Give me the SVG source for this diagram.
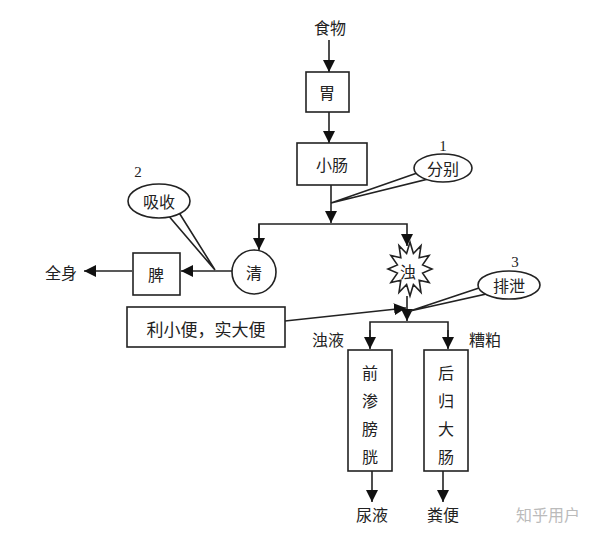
<svg xmlns="http://www.w3.org/2000/svg" width="600" height="539" viewBox="0 0 600 539">
<style>
.t{font-family:"Noto Sans CJK SC","Noto Sans CJK JP",sans-serif;font-size:16px;fill:#222;text-anchor:middle;dominant-baseline:central}
.n{font-family:"Liberation Serif",serif;font-size:15px;fill:#222;text-anchor:middle;dominant-baseline:central}
.b{fill:#fff;stroke:#222;stroke-width:1.6}
.l{fill:none;stroke:#222;stroke-width:1.6}
</style>
<defs>
<marker id="a" markerUnits="userSpaceOnUse" markerWidth="13" markerHeight="12" refX="12" refY="6" orient="auto">
<path d="M0,0 L12,6 L0,12 Z" fill="#111"/>
</marker>
</defs>
<rect width="600" height="539" fill="#fff"/>
<g id="connectors">
<line class="l" x1="329" y1="40" x2="329" y2="72" marker-end="url(#a)"/>
<line class="l" x1="329" y1="112" x2="329" y2="143" marker-end="url(#a)"/>
<line class="l" x1="331" y1="185" x2="331" y2="223" marker-end="url(#a)"/>
<polyline class="l" points="259,249 259,224 407,224 407,246" marker-end="url(#a)"/>
<line class="l" x1="259" y1="224" x2="259" y2="250" marker-end="url(#a)"/>
<line class="l" x1="232" y1="271" x2="181" y2="271" marker-end="url(#a)"/>
<line class="l" x1="132" y1="271" x2="84" y2="271" marker-end="url(#a)"/>
<line class="l" x1="407" y1="296" x2="407" y2="321" marker-end="url(#a)"/>
<line class="l" x1="285" y1="321" x2="406" y2="308" marker-end="url(#a)"/>
<polyline class="l" points="370,348 370,322 448,322 448,348"/>
<line class="l" x1="370" y1="330" x2="370" y2="349" marker-end="url(#a)"/>
<line class="l" x1="448" y1="330" x2="448" y2="349" marker-end="url(#a)"/>
<line class="l" x1="372" y1="471" x2="372" y2="502" marker-end="url(#a)"/>
<line class="l" x1="443" y1="471" x2="443" y2="502" marker-end="url(#a)"/>
</g>
<g id="food"><text class="t" x="330" y="27">食物</text></g>
<g id="stomach"><rect class="b" x="306" y="72" width="43" height="40"/><text class="t" x="327" y="92">胃</text></g>
<g id="small-intestine"><rect class="b" x="297" y="143" width="70" height="42"/><text class="t" x="332" y="164">小肠</text></g>
<g id="separate"><text class="n" x="443" y="146">1</text><polygon class="b" points="420,172 331,203 428,179"/><ellipse class="b" cx="443" cy="168" rx="29" ry="14"/><text class="t" x="443" y="168">分别</text></g>
<g id="absorb"><text class="n" x="138" y="172">2</text><polygon class="b" points="167,214 215,270 178,211"/><ellipse class="b" cx="159" cy="201" rx="31" ry="17"/><text class="t" x="159" y="201">吸收</text></g>
<g id="clear"><circle class="b" cx="254" cy="272" r="22"/><text class="t" x="254" y="272">清</text></g>
<g id="spleen"><rect class="b" x="133" y="253" width="47" height="42"/><text class="t" x="156" y="274">脾</text></g>
<g id="whole-body"><text class="t" x="61" y="272">全身</text></g>
<g id="turbid"><polygon class="b" points="410,242 413.4,253.5 421,245.6 419.2,257.7 429.1,255.5 422.6,264.9 432,269 422.6,273.1 429.1,282.5 419.2,280.3 421,292.4 413.4,284.5 410,296 406.6,284.5 399,292.4 400.8,280.3 390.9,282.5 397.4,273.1 388,269 397.4,264.9 390.9,255.5 400.8,257.7 399,245.6 406.6,253.5"/><text class="t" x="408" y="271">浊</text></g>
<g id="excrete"><text class="n" x="515" y="262">3</text><polygon class="b" points="479,288 410,311 486,294"/><ellipse class="b" cx="509" cy="285" rx="31" ry="14"/><text class="t" x="509" y="285">排泄</text></g>
<g id="effect"><rect class="b" x="127" y="307" width="158" height="40"/><text class="t" x="206" y="328" style="font-size:17px">利小便，实大便</text></g>
<g id="turbid-liquid"><text class="t" x="328" y="339">浊液</text></g>
<g id="dregs"><text class="t" x="485" y="339">糟粕</text></g>
<g id="bladder"><rect class="b" x="348" y="350" width="44" height="121"/><text class="t" x="370" y="372">前</text><text class="t" x="370" y="400">渗</text><text class="t" x="370" y="428">膀</text><text class="t" x="370" y="456">胱</text></g>
<g id="large-intestine"><rect class="b" x="424" y="350" width="44" height="121"/><text class="t" x="446" y="372">后</text><text class="t" x="446" y="400">归</text><text class="t" x="446" y="428">大</text><text class="t" x="446" y="456">肠</text></g>
<g id="urine"><text class="t" x="372" y="514">尿液</text></g>
<g id="feces"><text class="t" x="443" y="514">粪便</text></g>
<text class="t" x="548" y="514" style="fill:#bbb;font-size:16px">知乎用户</text>
</svg>
